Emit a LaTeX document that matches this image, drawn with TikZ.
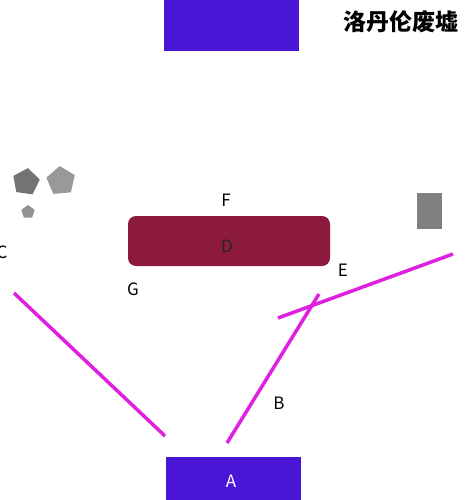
\documentclass[tikz,border=0pt]{standalone}
\usepackage{fontspec}
\setmainfont{Noto Sans CJK SC}
\newfontfamily\cjk{Noto Sans CJK SC}
\usetikzlibrary{shapes.geometric}
\definecolor{bluev}{RGB}{74,22,214}
\definecolor{wine}{RGB}{139,26,60}
\definecolor{mag}{RGB}{224,32,224}
\tikzset{
  lbl/.style={font=\fontsize{17}{17}\selectfont, text=black, inner sep=0pt},
  magline/.style={draw=mag, line width=3.5pt},
  pent/.style={regular polygon, regular polygon sides=5, inner sep=0pt, draw=none}
}
\begin{document}
\begin{tikzpicture}[x=1pt,y=-1pt]
\useasboundingbox (0,0) rectangle (472,500);
\fill[white] (0,0) rectangle (472,500);
% top blue rect
\node[fill=bluev, minimum width=135pt, minimum height=51pt, inner sep=0pt, anchor=north west] (top) at (164,0) {};
\node[font=\cjk\fontsize{23}{23}\selectfont\bfseries, inner sep=0pt] (title) at (401,22) {洛丹伦废墟};
% bottom A
\node[fill=bluev, minimum width=135pt, minimum height=43pt, inner sep=0pt, anchor=north west] (boxA) at (166,457) {};
\node[lbl, text=white] (A) at (231,481) {A};
% D
\node[fill=wine, rounded corners=8pt, minimum width=202pt, minimum height=50pt, inner sep=0pt] (boxD) at (229,241) {};
\node[lbl, text=black!85] (D) at (227,246) {D};
\node[lbl] (F) at (226,200) {F};
\node[lbl] (G) at (133,289) {G};
\node[lbl] (E) at (343,270) {E};
\node[lbl] (B) at (279,403) {B};
\node[lbl] (C) at (2,252) {C};
% gray rect
\node[fill=black!50, minimum width=25pt, minimum height=36pt, inner sep=0pt, anchor=north west] (gr) at (417,193) {};
% pentagons
\node[pent, fill=black!55, minimum size=28pt, rotate=-8] (p1) at (26,182) {};
\node[pent, fill=black!40, minimum size=30pt, rotate=5] (p2) at (61,181) {};
\node[pent, fill=black!42, minimum size=14pt] (p3) at (28,212) {};
% magenta lines
\coordinate (l1a) at (14,293);
\coordinate (l1b) at (165,436);
\coordinate (l2a) at (227,443);
\coordinate (l2b) at (319,294);
\coordinate (l3a) at (278,318);
\coordinate (l3b) at (453,254);
\draw[magline] (l1a) -- (l1b);
\draw[magline] (l2a) -- (l2b);
\draw[magline] (l3a) -- (l3b);
\end{tikzpicture}
\end{document}
